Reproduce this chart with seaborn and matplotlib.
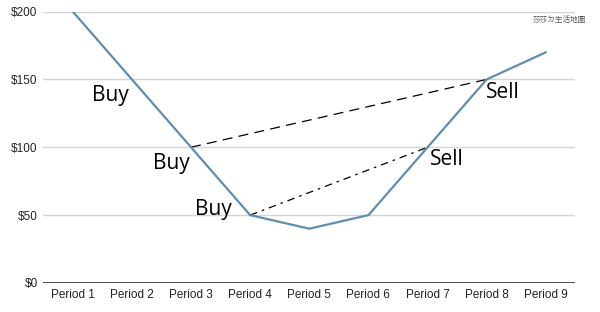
import matplotlib
matplotlib.use("Agg")
import matplotlib.pyplot as plt
import seaborn as sns
import pandas as pd

periods = ["Period 1", "Period 2", "Period 3", "Period 4", "Period 5",
           "Period 6", "Period 7", "Period 8", "Period 9"]
prices = [200, 150, 100, 50, 40, 50, 100, 150, 170]
yticks = [0, 50, 100, 150, 200]
ytick_labels = ["$0", "$50", "$100", "$150", "$200"]

# trade pairs: (buy index, sell index)
trade1 = (2, 7)
trade2 = (3, 6)

# annotation texts and positions (category index, value)
labels = ["Buy", "Buy", "Buy", "Sell", "Sell"]
label_x = [0.63, 1.67, 2.38, 7.28, 6.33]
label_y = [138, 88, 54, 140, 91]

watermark = "莎莎ㄉ生活地圖"

sns.set_theme(style="white")
plt.rcParams['font.family'] = ['Liberation Sans', 'Noto Sans CJK TC', 'DejaVu Sans']

df = pd.DataFrame({"period": periods, "price": prices})

fig = plt.figure(figsize=(6, 3.12), dpi=100)
ax = fig.add_axes([0.072, 0.093, 0.887, 0.87])

for t in yticks:
    ax.axhline(t, color="#d4d4d4", lw=1, zorder=0)
ax.axhline(0, color="#222222", lw=1.1, zorder=1)

sns.lineplot(data=df, x="period", y="price", ax=ax, color="#5f8db0", lw=1.6,
             sort=False, zorder=3)

ax.plot([periods[trade1[0]], periods[trade1[1]]],
        [prices[trade1[0]], prices[trade1[1]]],
        color="black", lw=0.9, ls=(0, (8, 5)), zorder=2)
ax.plot([periods[trade2[0]], periods[trade2[1]]],
        [prices[trade2[0]], prices[trade2[1]]],
        color="black", lw=0.9, ls=(0, (6, 4, 2, 4)), zorder=2)

for txt, x, y in zip(labels, label_x, label_y):
    ax.text(x, y, txt, fontsize=15, ha="center", va="center",
            family=["Open Sans", "DejaVu Sans"], color="black", zorder=4)

fig.text(0.977, 0.935, watermark, fontsize=5.5,
         ha="right", va="center", color="#555555",
         family=["Noto Sans CJK TC", "DejaVu Sans"])

ax.set_xlim(-0.5, 8.5)
ax.set_ylim(0, 200)
ax.set_yticks(yticks)
ax.set_yticklabels(ytick_labels)
ax.set_xlabel("")
ax.set_ylabel("")
ax.tick_params(axis="both", labelsize=8.5, length=0, pad=4, colors="#222222")
for s in ax.spines.values():
    s.set_visible(False)

fig.savefig("out.png", dpi=100, facecolor="white")
